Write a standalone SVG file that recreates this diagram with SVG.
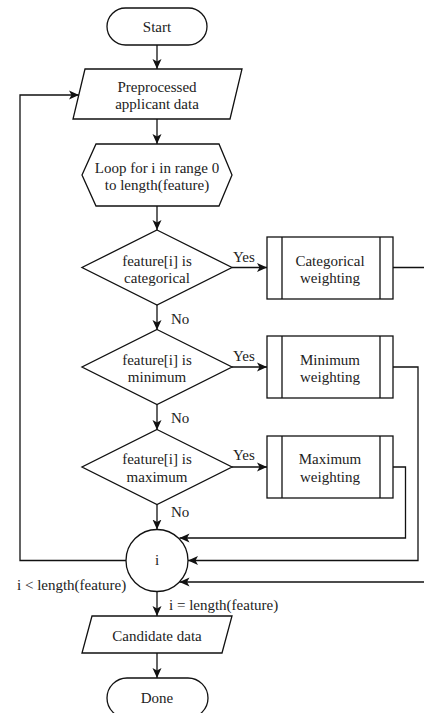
<svg xmlns="http://www.w3.org/2000/svg" width="424" height="713" viewBox="0 0 424 713" font-family="'Liberation Serif', 'Times New Roman', Times, serif" font-size="15">
<defs>
<marker id="arr" viewBox="0 0 10 10" refX="10" refY="5" markerWidth="10" markerHeight="10" markerUnits="userSpaceOnUse" orient="auto">
<path d="M0,0.5 L10,5 L0,9.5 L2.5,5 z" fill="#111"/>
</marker>
<style>
.s{fill:#fff;stroke:#111;stroke-width:1.3}
.c{fill:none;stroke:#111;stroke-width:1.3}
text{font-family:'Liberation Serif','Times New Roman',Times,serif;font-size:15px;fill:#222}
.m{text-anchor:middle}
</style>
</defs>
<rect width="424" height="713" fill="#fff"/>
<g id="connectors">
<path class="c" d="M157,45 V69" marker-end="url(#arr)"/>
<path class="c" d="M157,119 V144" marker-end="url(#arr)"/>
<path class="c" d="M157,206 V230" marker-end="url(#arr)"/>
<path class="c" d="M157,305 V330" marker-end="url(#arr)"/>
<path class="c" d="M157,404.5 V430" marker-end="url(#arr)"/>
<path class="c" d="M157,504.5 V529.5" marker-end="url(#arr)"/>
<path class="c" d="M157,591.5 V616" marker-end="url(#arr)"/>
<path class="c" d="M157,653 V678" marker-end="url(#arr)"/>
<path class="c" d="M232,267.5 H267" marker-end="url(#arr)"/>
<path class="c" d="M232,367 H267" marker-end="url(#arr)"/>
<path class="c" d="M232,467 H267" marker-end="url(#arr)"/>
<path class="c" d="M393,267.5 H430"/>
<path class="c" d="M393,367 H418 V560.5 H188" marker-end="url(#arr)"/>
<path class="c" d="M393,467 H405.5 V538 H179.5" marker-end="url(#arr)"/>
<path class="c" d="M430,582 H179.5" marker-end="url(#arr)"/>
<path class="c" d="M126,560.5 H20 V95 H79" marker-end="url(#arr)"/>
<text x="233" y="262">Yes</text>
<text x="233" y="361">Yes</text>
<text x="233" y="460">Yes</text>
<text x="171" y="324">No</text>
<text x="171" y="423">No</text>
<text x="171" y="517">No</text>
<text x="17" y="590">i &lt; length(feature)</text>
<text x="169" y="610">i = length(feature)</text>
</g>
<g id="start">
<rect class="s" x="107" y="8" width="100" height="37" rx="18.5"/>
<text class="m" x="157" y="32">Start</text>
</g>
<g id="preprocessed">
<path class="s" d="M85,69 H242 L230,119 H73 z"/>
<text class="m" x="157" y="92">Preprocessed</text>
<text class="m" x="157" y="109">applicant data</text>
</g>
<g id="loop">
<path class="s" d="M82,175 L96,144 H219 L232,175 L219,206 H96 z"/>
<text class="m" x="157" y="173">Loop for i in range 0</text>
<text class="m" x="157" y="190">to length(feature)</text>
</g>
<g id="is-categorical">
<path class="s" d="M157,230 L232,267.5 L157,305 L82,267.5 z"/>
<text class="m" x="157" y="266">feature[i] is</text>
<text class="m" x="157" y="283">categorical</text>
</g>
<g id="categorical-weighting">
<rect class="s" x="267" y="237" width="126" height="62"/>
<path class="c" d="M282,237 V299 M380,237 V299"/>
<text class="m" x="330" y="266">Categorical</text>
<text class="m" x="330" y="283">weighting</text>
</g>
<g id="is-minimum">
<path class="s" d="M157,329.5 L232,367 L157,404.5 L82,367 z"/>
<text class="m" x="157" y="365">feature[i] is</text>
<text class="m" x="157" y="382">minimum</text>
</g>
<g id="minimum-weighting">
<rect class="s" x="267" y="336" width="126" height="62"/>
<path class="c" d="M282,336 V398 M380,336 V398"/>
<text class="m" x="330" y="365">Minimum</text>
<text class="m" x="330" y="382">weighting</text>
</g>
<g id="is-maximum">
<path class="s" d="M157,429.5 L232,467 L157,504.5 L82,467 z"/>
<text class="m" x="157" y="464">feature[i] is</text>
<text class="m" x="157" y="482">maximum</text>
</g>
<g id="maximum-weighting">
<rect class="s" x="267" y="436" width="126" height="62"/>
<path class="c" d="M282,436 V498 M380,436 V498"/>
<text class="m" x="330" y="464">Maximum</text>
<text class="m" x="330" y="482">weighting</text>
</g>
<g id="i-node">
<circle class="s" cx="157" cy="560.5" r="31"/>
<text class="m" x="157" y="565">i</text>
</g>
<g id="candidate">
<path class="s" d="M92,616 H232 L222,653 H82 z"/>
<text class="m" x="157" y="641">Candidate data</text>
</g>
<g id="done">
<rect class="s" x="107" y="678" width="101" height="40" rx="20"/>
<text class="m" x="157" y="703">Done</text>
</g>
</svg>
